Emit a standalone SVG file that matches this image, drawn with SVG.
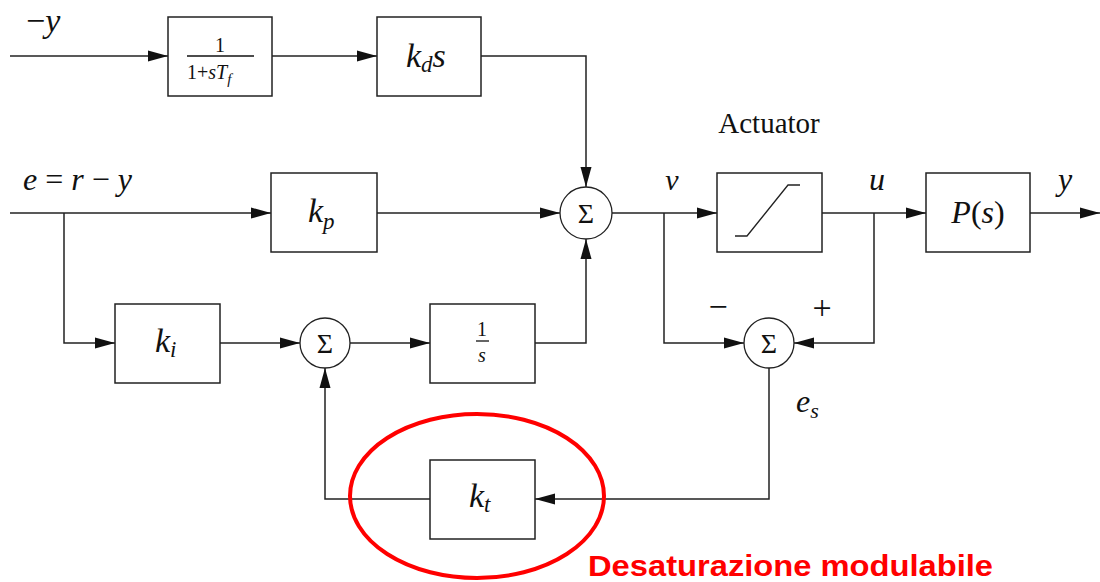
<svg xmlns="http://www.w3.org/2000/svg" width="1100" height="582" viewBox="0 0 1100 582">
<style>
.box{fill:#fff;stroke:#222;stroke-width:1.5}
.sum{fill:#fff;stroke:#222;stroke-width:1.3}
.wire{fill:none;stroke:#222;stroke-width:1.5}
.m{font-family:'Liberation Serif','DejaVu Serif',serif;fill:#111}
.i{font-style:italic}
.sig{font-family:'Liberation Serif','DejaVu Serif',serif;font-size:28px;fill:#111;text-anchor:middle}
</style>
<defs>
<marker id="ar" markerUnits="userSpaceOnUse" markerWidth="20" markerHeight="12" refX="20" refY="6" orient="auto">
<path d="M0,0.5 L20,6 L0,11.5 z" fill="#111"/>
</marker>
</defs>
<g id="connectors" class="wire" marker-end="url(#ar)">
<path d="M10,56 H168"/>
<path d="M272,56 H377"/>
<path d="M481,56 H586 V187"/>
<path d="M10,213 H271"/>
<path d="M377,213 H560"/>
<path d="M612,213 H717"/>
<path d="M822,213 H926"/>
<path d="M1030,213 H1100"/>
<path d="M64,213 V343 H115"/>
<path d="M220,343 H300"/>
<path d="M350,343 H430"/>
<path d="M535,343 H586 V239"/>
<path d="M664,213 V343 H744"/>
<path d="M874,213 V343 H794"/>
<path d="M769,368 V499 H535"/>
<path d="M430,499 H325 V368"/>
</g>
<g id="filter">
<rect class="box" x="168" y="17" width="104" height="79"/>
<text class="m" x="220" y="52" font-size="20" text-anchor="middle">1</text>
<line x1="187" y1="56" x2="254" y2="56" stroke="#111" stroke-width="1.3"/>
<text class="m" x="187" y="79" font-size="20">1+<tspan class="i">sT</tspan><tspan class="i" font-size="15" dy="5">f</tspan></text>
</g>
<g id="kd">
<rect class="box" x="377" y="17" width="104" height="79"/>
<text class="m i" x="406" y="67" font-size="34">k<tspan font-size="23" dy="5">d</tspan><tspan dy="-5">s</tspan></text>
</g>
<g id="kp">
<rect class="box" x="271" y="173" width="106" height="79"/>
<text class="m i" x="308" y="222" font-size="34">k<tspan font-size="23" dy="7">p</tspan></text>
</g>
<g id="sum1">
<circle class="sum" cx="586" cy="213" r="26"/>
<text class="sig" x="586" y="223">Σ</text>
</g>
<g id="actuator">
<rect class="box" x="717" y="173" width="105" height="79"/>
<path d="M735,236 H747 L788,185 H800" fill="none" stroke="#222" stroke-width="1.3"/>
<text class="m" x="769" y="133" font-size="29" text-anchor="middle">Actuator</text>
</g>
<g id="plant">
<rect class="box" x="926" y="173" width="104" height="79"/>
<text class="m" x="978" y="223" font-size="32" text-anchor="middle"><tspan class="i">P</tspan>(<tspan class="i">s</tspan>)</text>
</g>
<g id="ki">
<rect class="box" x="115" y="304" width="105" height="79"/>
<text class="m i" x="155" y="352" font-size="34">k<tspan font-size="23" dy="5">i</tspan></text>
</g>
<g id="sum2">
<circle class="sum" cx="325" cy="343" r="25"/>
<text class="sig" x="325" y="353">Σ</text>
</g>
<g id="integrator">
<rect class="box" x="430" y="304" width="105" height="79"/>
<text class="m" x="482" y="336" font-size="20" text-anchor="middle">1</text>
<line x1="476" y1="341" x2="489" y2="341" stroke="#111" stroke-width="1.3"/>
<text class="m i" x="482" y="362" font-size="20" text-anchor="middle">s</text>
</g>
<g id="sum3">
<circle class="sum" cx="769" cy="343" r="25"/>
<text class="sig" x="769" y="353">Σ</text>
<text class="m" x="718" y="318" font-size="34" text-anchor="middle">−</text>
<text class="m" x="822" y="319" font-size="34" text-anchor="middle">+</text>
</g>
<g id="kt">
<rect class="box" x="430" y="460" width="105" height="79"/>
<text class="m i" x="469" y="507" font-size="34">k<tspan font-size="23" dy="5">t</tspan></text>
</g>
<g id="labels">
<text class="m" x="26" y="32" font-size="34">−<tspan class="i">y</tspan></text>
<text class="m" x="23" y="190" font-size="32"><tspan class="i">e</tspan> = <tspan class="i">r</tspan> − <tspan class="i">y</tspan></text>
<text class="m i" x="672" y="190" font-size="30" text-anchor="middle">ν</text>
<text class="m i" x="877" y="190" font-size="32" text-anchor="middle">u</text>
<text class="m i" x="1065" y="190" font-size="32" text-anchor="middle">y</text>
<text class="m i" x="796" y="412" font-size="32">e<tspan font-size="22" dy="6">s</tspan></text>
</g>
<g id="annotation">
<ellipse cx="477" cy="496" rx="127" ry="82" fill="none" stroke="#f00" stroke-width="4"/>
<text x="588" y="576" font-family="'Liberation Sans',Arial,sans-serif" font-weight="bold" font-size="30" fill="#f00" textLength="405" lengthAdjust="spacingAndGlyphs">Desaturazione modulabile</text>
</g>
</svg>
